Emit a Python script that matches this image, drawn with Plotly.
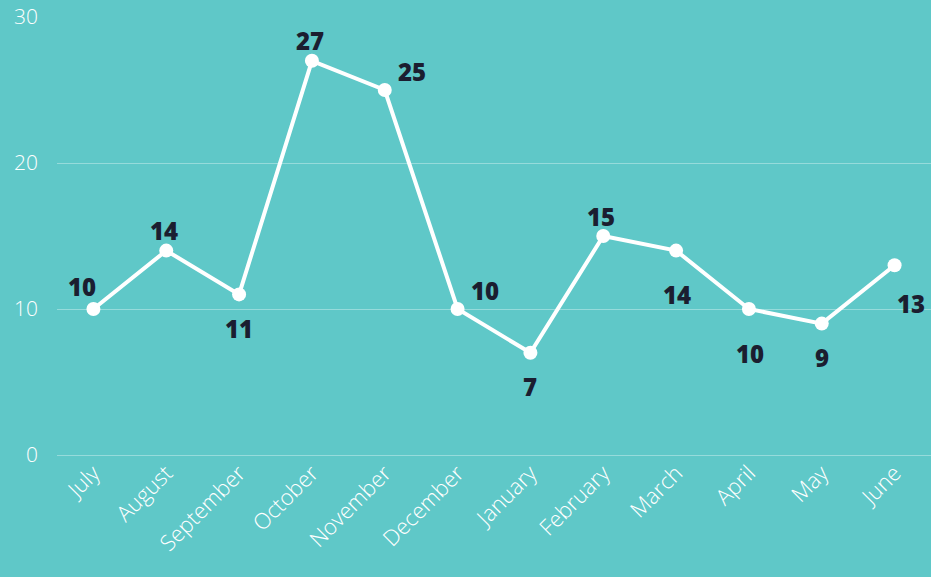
import plotly.graph_objects as go

months = ["July", "August", "September", "October", "November", "December",
          "January", "February", "March", "April", "May", "June"]
values = [10, 14, 11, 27, 25, 10, 7, 15, 14, 10, 9, 13]
label_pos = ["tl", "t", "b", "t", "tr", "tr", "b", "t", "bb", "bb", "b", "br"]
y_ticks = [0, 10, 20, 30]

shifts = {
    "tl": (-11, 23), "t": (-2, 20), "b": (0, -34), "bb": (1, -44),
    "tr": (27, 19), "br": (16, -38),
}

BG = "#5fc8c8"
LABEL = "#1b1e30"

fig = go.Figure()
fig.add_trace(go.Scatter(
    x=months, y=values, mode="lines+markers",
    line=dict(color="white", width=4),
    marker=dict(color="white", size=14),
    hoverinfo="skip", showlegend=False,
))

for m, v, p in zip(months, values, label_pos):
    dx, dy = shifts[p]
    fig.add_annotation(x=m, y=v, text=str(v), showarrow=False,
                       xshift=dx, yshift=dy,
                       font=dict(family="Open Sans", size=24, color=LABEL, weight=800))

fig.update_layout(
    width=931, height=577,
    paper_bgcolor=BG, plot_bgcolor=BG,
    margin=dict(l=57, r=0, t=17, b=122),
    font=dict(family="Open Sans", color="white"),
)
fig.update_xaxes(
    type="category", tickangle=-45, showgrid=False, zeroline=False,
    showline=False, ticks="", tickfont=dict(size=22, color="white", family="Open Sans", weight=300),
    range=[-0.5, 11.5],
)
fig.update_yaxes(
    range=[0, 30], tickvals=y_ticks, showgrid=True,
    gridcolor="rgba(255,255,255,0.35)", gridwidth=1,
    zeroline=True, zerolinecolor="rgba(255,255,255,0.35)", zerolinewidth=1,
    showline=False, ticks="", ticklabelstandoff=18,
    tickfont=dict(size=21, color="white", family="Open Sans", weight=300),
)

fig.write_html("out.html", config={"displayModeBar": False},
               post_script="document.body.style.margin='0';document.body.style.overflow='hidden';")
